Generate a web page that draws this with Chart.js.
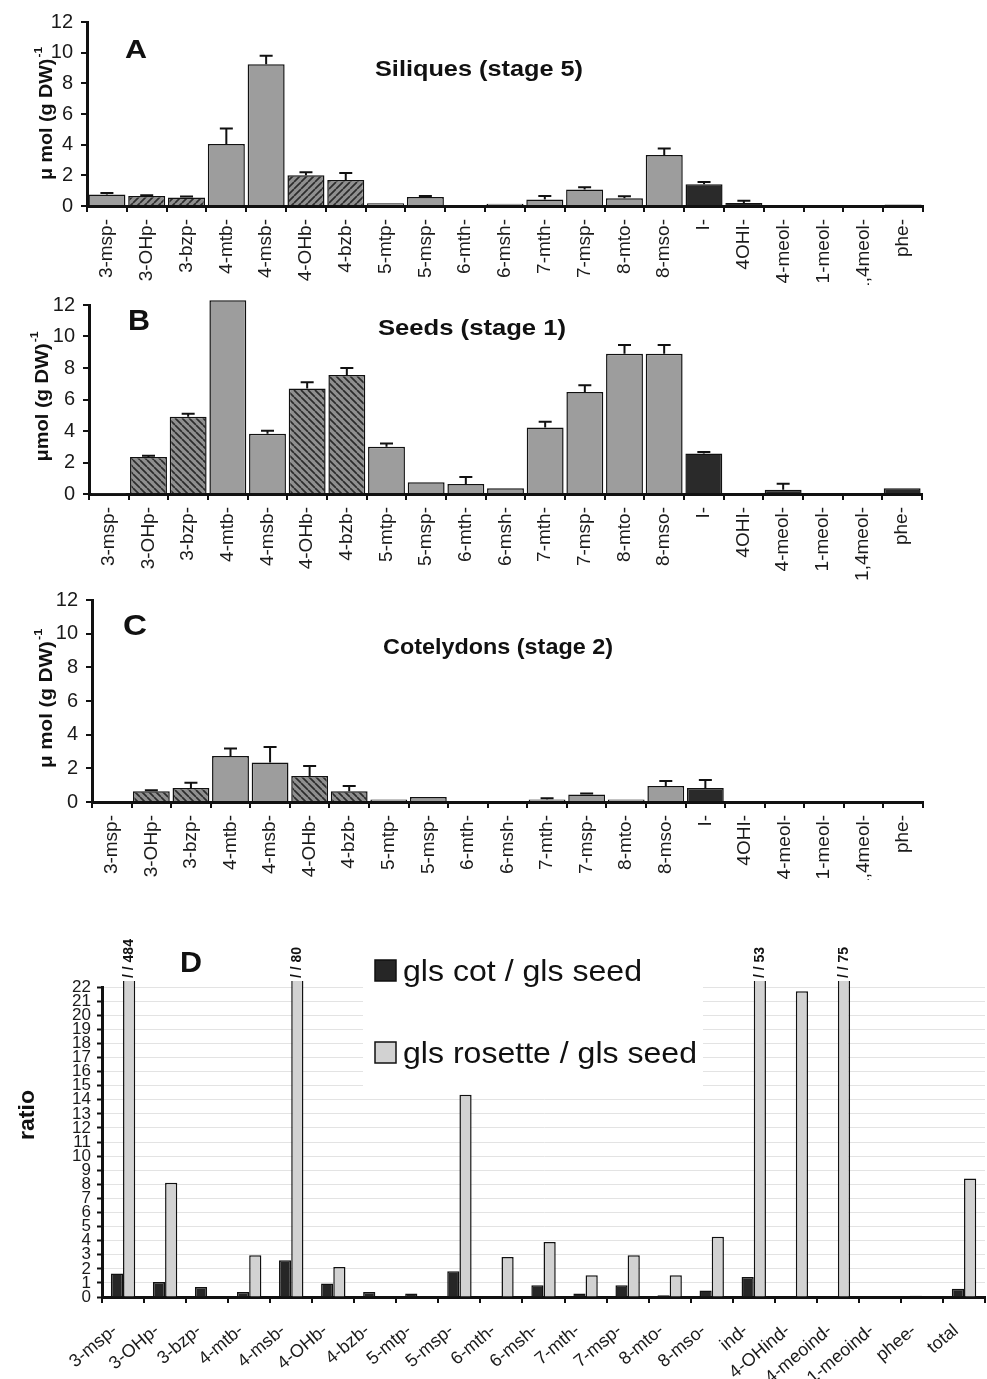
<!DOCTYPE html>
<html>
<head>
<meta charset="utf-8">
<title>Glucosinolate profiles</title>
<script src="https://cdn.jsdelivr.net/npm/chart.js@4.4.0/dist/chart.umd.min.js"></script>
<style>
  body { margin: 0; background: #fff; }
  #wrap { position: relative; width: 987px; height: 1379px; overflow: hidden; }
  canvas { position: absolute; left: 0; }
</style>
</head>
<body>
<div id="wrap">
  <canvas id="panelA" width="987" height="285" style="top:0px"></canvas>
  <canvas id="panelB" width="987" height="295" style="top:285px"></canvas>
  <canvas id="panelC" width="987" height="300" style="top:580px"></canvas>
  <canvas id="panelD" width="995" height="499" style="top:880px"></canvas>
</div>
<script>
// Data
// compound names used on panels A-C
const compoundsABC = ["3-msp-", "3-OHp-", "3-bzp-", "4-mtb-", "4-msb-", "4-OHb-", "4-bzb-",
  "5-mtp-", "5-msp-", "6-mth-", "6-msh-", "7-mth-", "7-msp-", "8-mto-", "8-mso-",
  "I-", "4OHI-", "4-meol-", "1-meol-", "1,4meol-", "phe-"];
// bar style per compound: g = plain grey, h = hatched, d = dark
const barKindsABC = ["g", "h", "h", "g", "g", "h", "h", "g", "g", "g", "g", "g", "g", "g", "g",
  "d", "d", "d", "d", "d", "d"];

// A - siliques (stage 5), umol (g DW)-1 and +SD
const siliquesValues = [0.75, 0.65, 0.55, 4.05, 9.25, 2.0, 1.7, 0.18, 0.58, 0, 0.15, 0.42, 1.08, 0.5, 3.32, 1.42, 0.2, 0, 0, 0, 0.1];
const siliquesErr = [0.1, 0.05, 0.07, 1.0, 0.55, 0.2, 0.45, 0, 0.08, 0, 0, 0.24, 0.14, 0.13, 0.43, 0.14, 0.15, 0, 0, 0, 0];

// B - seeds (stage 1)
const seedsValues = [0.03, 2.35, 4.9, 12.3, 3.83, 6.7, 7.55, 3.0, 0.74, 0.64, 0.37, 4.23, 6.48, 8.9, 8.9, 2.57, 0, 0.27, 0, 0, 0.37];
const seedsErr = [0, 0.08, 0.2, 0, 0.18, 0.4, 0.45, 0.2, 0, 0.44, 0, 0.35, 0.42, 0.56, 0.56, 0.09, 0, 0.38, 0, 0, 0];

// C - cotelydons (stage 2)
const cotValues = [0, 0.64, 0.83, 2.74, 2.34, 1.55, 0.64, 0.15, 0.3, 0, 0.05, 0.15, 0.44, 0.15, 0.95, 0.83, 0, 0, 0, 0, 0];
const cotErr = [0, 0.06, 0.32, 0.44, 0.93, 0.59, 0.31, 0, 0, 0, 0, 0.08, 0.06, 0, 0.3, 0.47, 0, 0, 0, 0, 0];

// D - ratios
const compoundsD = ["3-msp-", "3-OHp-", "3-bzp-", "4-mtb-", "4-msb-", "4-OHb-", "4-bzb-",
  "5-mtp-", "5-msp-", "6-mth-", "6-msh-", "7-mth-", "7-msp-", "8-mto-", "8-mso-",
  "ind-", "4-OHind-", "4-meoind-", "1-meoind-", "phee-", "total"];
const cotSeedRatio = [1.66, 1.07, 0.71, 0.36, 2.6, 0.95, 0.36, 0.24, 1.82, 0, 0.83, 0.24, 0.83, 0.12, 0.47, 1.42, 0, 0, 0, 0.08, 0.59];
const rosetteSeedRatio = [484, 8.1, 0, 2.96, 80, 2.13, 0, 0, 14.35, 2.84, 3.9, 1.54, 2.96, 1.54, 4.27, 53, 21.7, 75, 0, 0, 8.41];

Chart.defaults.font.family = "'Liberation Sans', Arial, sans-serif";
Chart.defaults.color = "#1a1a1a";

const FONT = "'Liberation Sans', Arial, sans-serif";

// diagonal hatch pattern for hydroxy / benzoyl compounds
function hatch(dir) {
  const s = 7;
  const c = document.createElement("canvas");
  c.width = s;
  c.height = s;
  const g = c.getContext("2d");
  g.fillStyle = "#8f8f8f";
  g.fillRect(0, 0, s, s);
  g.strokeStyle = "#2c2c2c";
  g.lineWidth = 1.7;
  g.beginPath();
  for (let m = 0; m <= 2; m++) {
    if (dir === "/") {
      g.moveTo(m * s - s, s);
      g.lineTo(m * s, 0);
    } else {
      g.moveTo(m * s - s, 0);
      g.lineTo(m * s, s);
    }
  }
  g.stroke();
  return g.createPattern(c, "repeat");
}

function barFills(kinds, dir) {
  const pat = hatch(dir);
  return kinds.map((k) => (k === "h" ? pat : k === "d" ? "#2a2a2a" : "#9d9d9d"));
}

// text helper, stretched to a given width if asked
function drawText(ctx, str, x, y, font, width, angle, align) {
  ctx.save();
  ctx.font = font;
  ctx.fillStyle = "#111";
  const w = ctx.measureText(str).width;
  const sx = width ? width / w : 1;
  ctx.translate(x, y);
  if (angle) ctx.rotate(angle);
  ctx.scale(sx, 1);
  ctx.textAlign = "left";
  ctx.textBaseline = angle ? "middle" : "alphabetic";
  ctx.fillText(str, align === "center" ? -w / 2 : 0, 0);
  ctx.restore();
}

// error bars (+SD) on top of the bars
function errorBars(errs) {
  return {
    id: "errorBars",
    afterDatasetsDraw(chart) {
      const meta = chart.getDatasetMeta(0);
      const yScale = chart.scales.y;
      const values = chart.data.datasets[0].data;
      const ctx = chart.ctx;
      ctx.save();
      ctx.strokeStyle = "#111";
      ctx.lineWidth = 2;
      meta.data.forEach((bar, i) => {
        if (!errs[i]) return;
        const yTop = yScale.getPixelForValue(values[i] + errs[i]);
        ctx.beginPath();
        ctx.moveTo(bar.x, bar.y);
        ctx.lineTo(bar.x, yTop);
        ctx.moveTo(bar.x - 6.5, yTop);
        ctx.lineTo(bar.x + 6.5, yTop);
        ctx.stroke();
      });
      ctx.restore();
    },
  };
}

// panel letter, title and y title
function panelText(t) {
  return {
    id: "panelText",
    afterDraw(chart) {
      const ctx = chart.ctx;
      drawText(ctx, t.letter, t.lx, t.ly, "bold " + t.lsize + "px " + FONT, t.lw);
      if (t.title) drawText(ctx, t.title, t.tx, t.ty, "bold 22px " + FONT, t.tw);
      if (t.ytitle) {
        // rotated y title with superscript -1
        ctx.save();
        ctx.fillStyle = "#111";
        ctx.translate(t.yx, t.yy);
        ctx.rotate(-Math.PI / 2);
        ctx.font = "bold 18px " + FONT;
        const w1 = ctx.measureText(t.ytitle).width;
        ctx.font = "bold 11px " + FONT;
        const w2 = ctx.measureText("-1").width;
        const sx = t.ylen / (w1 + w2);
        ctx.scale(sx, 1);
        ctx.textBaseline = "middle";
        ctx.textAlign = "left";
        const start = -(w1 + w2) / 2;
        ctx.font = "bold 18px " + FONT;
        ctx.fillText(t.ytitle, start, 0);
        ctx.font = "bold 11px " + FONT;
        ctx.fillText("-1", start + w1 + 1, -8);
        ctx.restore();
      }
    },
  };
}

function panelChart(canvasId, values, errs, box, dir, texts) {
  return new Chart(document.getElementById(canvasId), {
    type: "bar",
    data: {
      labels: compoundsABC,
      datasets: [
        {
          data: values,
          backgroundColor: barFills(barKindsABC, dir),
          borderColor: "#111",
          borderWidth: 1.5,
          categoryPercentage: 1,
          barPercentage: 0.93,
          clip: false,
        },
      ],
    },
    options: {
      responsive: false,
      animation: false,
      devicePixelRatio: 1,
      layout: { padding: { top: box.top, right: box.right, left: 0, bottom: 0 } },
      plugins: { legend: { display: false }, tooltip: { enabled: false } },
      scales: {
        x: {
          afterFit: (s) => { s.height = box.xh; },
          grid: { display: true, drawOnChartArea: false, color: "#111", tickLength: 6, lineWidth: 2, offset: true },
          border: { display: true, color: "#111", width: 3 },
          ticks: { minRotation: 90, maxRotation: 90, autoSkip: false, padding: 7, font: { size: 19 }, color: "#1a1a1a" },
        },
        y: {
          min: 0,
          max: 12,
          afterFit: (s) => { s.width = box.left; },
          grid: { display: true, drawOnChartArea: false, color: "#111", tickLength: 6, lineWidth: 2 },
          border: { display: true, color: "#111", width: 3 },
          ticks: { stepSize: 2, padding: 8, font: { size: 20 }, color: "#1a1a1a" },
        },
      },
    },
    plugins: [errorBars(errs), panelText(texts)],
  });
}

panelChart("panelA", siliquesValues, siliquesErr,
  { top: 22, right: 64, left: 87, xh: 79 }, "/",
  { letter: "A", lx: 125, ly: 58, lsize: 26, lw: 22,
    title: "Siliques (stage 5)", tx: 375, ty: 76, tw: 208,
    ytitle: "\u03bc mol (g DW)", yx: 47, yy: 114, ylen: 132 });

panelChart("panelB", seedsValues, seedsErr,
  { top: 15, right: 65, left: 89, xh: 86 }, "\\",
  { letter: "B", lx: 128, ly: 45, lsize: 30, lw: 22,
    title: "Seeds (stage 1)", tx: 378, ty: 50, tw: 188,
    ytitle: "\u03bcmol (g DW)", yx: 43, yy: 112, ylen: 129 });

panelChart("panelC", cotValues, cotErr,
  { top: 20, right: 64, left: 92, xh: 78 }, "\\",
  { letter: "C", lx: 123, ly: 55, lsize: 30, lw: 24,
    title: "Cotelydons (stage 2)", tx: 383, ty: 74, tw: 230,
    ytitle: "\u03bc mol (g DW)", yx: 47, yy: 119, ylen: 138 });

// labels for the bars that run past the top of panel D
const breakLabels = {
  id: "breakLabels",
  afterDatasetsDraw(chart) {
    const yScale = chart.scales.y;
    const meta = chart.getDatasetMeta(1);
    meta.data.forEach((bar, i) => {
      const v = rosetteSeedRatio[i];
      if (v <= yScale.max) return;
      drawText(chart.ctx, "/ / " + v, bar.x, chart.chartArea.top - 9, "bold 14px " + FONT, null, -Math.PI / 2);
    });
  },
};

// legend with white box over the grid
const legendD = {
  id: "legendD",
  afterDraw(chart) {
    const ctx = chart.ctx;
    ctx.save();
    ctx.fillStyle = "#fff";
    ctx.fillRect(363, 60, 340, 152);
    const items = [
      { fill: "#262626", text: chart.data.datasets[0].label, y: 80, w: 239 },
      { fill: "#d2d2d2", text: chart.data.datasets[1].label, y: 162, w: 294 },
    ];
    items.forEach((it) => {
      ctx.fillStyle = it.fill;
      ctx.strokeStyle = "#111";
      ctx.lineWidth = 1.5;
      ctx.fillRect(375, it.y, 21, 21);
      ctx.strokeRect(375, it.y, 21, 21);
      drawText(ctx, it.text, 403, it.y + 21, "29px " + FONT, it.w);
    });
    ctx.restore();
  },
};

new Chart(document.getElementById("panelD"), {
  type: "bar",
  data: {
    labels: compoundsD,
    datasets: [
      {
        label: "gls cot / gls seed",
        data: cotSeedRatio,
        backgroundColor: "#262626",
        borderColor: "#111",
        borderWidth: 1.5,
        categoryPercentage: 0.58,
        barPercentage: 1,
        clip: 6,
      },
      {
        label: "gls rosette / gls seed",
        data: rosetteSeedRatio,
        backgroundColor: "#d2d2d2",
        borderColor: "#111",
        borderWidth: 1.5,
        categoryPercentage: 0.58,
        barPercentage: 1,
        clip: 6,
      },
    ],
  },
  options: {
    responsive: false,
    animation: false,
    devicePixelRatio: 1,
    layout: { padding: { top: 107, right: 4, left: 0, bottom: 0 } },
    plugins: { legend: { display: false }, tooltip: { enabled: false } },
    scales: {
      x: {
        afterFit: (s) => { s.height = 82; },
        grid: { display: true, drawOnChartArea: false, color: "#111", tickLength: 6, lineWidth: 2, offset: true },
        border: { display: true, color: "#111", width: 3 },
        ticks: { minRotation: 40, maxRotation: 40, autoSkip: false, padding: 17, labelOffset: -8, font: { size: 18 }, color: "#1a1a1a" },
      },
      y: {
        min: 0,
        max: 22,
        afterFit: (s) => { s.width = 102; },
        grid: { display: true, color: "#e3e3e3", lineWidth: 1, tickColor: "#111", tickWidth: 2, tickLength: 5 },
        border: { display: true, color: "#111", width: 3 },
        ticks: { stepSize: 1, autoSkip: false, padding: 6, font: { size: 17 }, color: "#1a1a1a" },
      },
    },
  },
  plugins: [
    breakLabels,
    legendD,
    panelText({ letter: "D", lx: 180, ly: 92, lsize: 30, lw: 22 }),
    {
      id: "ratioTitle",
      afterDraw(chart) {
        drawText(chart.ctx, "ratio", 28, 235, "bold 22px " + FONT, 50, -Math.PI / 2, "center");
      },
    },
  ],
});
</script>
</body>
</html>
